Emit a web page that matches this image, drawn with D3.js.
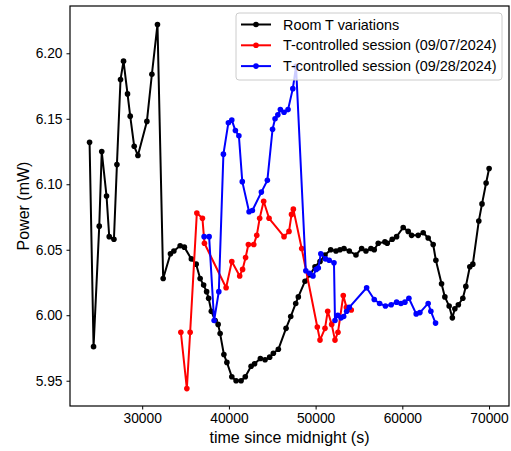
<!DOCTYPE html>
<html>
<head>
<meta charset="utf-8">
<script src="https://cdn.jsdelivr.net/npm/d3@7"></script>
<style>
  body { margin: 0; background: #fff; }
  svg { font-family: "Liberation Sans", Arial, sans-serif; }
</style>
</head>
<body>
<svg id="chart" width="511" height="451"></svg>
<script>
// Room T variations (black)
const roomT_time = [23930, 24390, 25046, 25334, 25887, 26198, 26740, 27085, 27500, 27846,
  28307, 28618, 29078, 29505, 30541, 31117, 31762, 32419, 33260, 33652,
  34378, 34861, 35668, 36221, 36682, 37085, 37430, 37661, 37972, 38410,
  38755, 38986, 39423, 39769, 40333, 40829, 41405, 41889, 42557, 42960,
  43628, 44170, 44700, 45126, 45702, 46589, 47130, 47706, 48006, 48778,
  49354, 49930, 50506, 51082, 51738, 52349, 52810, 53270, 53881, 54653,
  55309, 55805, 56381, 56761, 57222, 57994, 58259, 58835, 59341, 60102,
  60678, 61069, 61830, 62406, 62982, 63558, 63869, 64525, 64906, 65401,
  65770, 66058, 66461, 66979, 67325, 67786, 68131, 68822, 69191, 69663, 70009];
const roomT_power = [6.132, 5.976, 6.068, 6.125, 6.091, 6.060, 6.058, 6.115, 6.180, 6.194,
  6.169, 6.152, 6.129, 6.122, 6.148, 6.184, 6.222, 6.028, 6.047, 6.049,
  6.053, 6.052, 6.043, 6.039, 6.028, 6.023, 6.018, 6.013, 6.003, 5.996,
  5.993, 5.986, 5.970, 5.964, 5.953, 5.950, 5.950, 5.953, 5.961, 5.963,
  5.967, 5.966, 5.968, 5.971, 5.974, 5.990, 5.999, 6.009, 6.014, 6.026,
  6.031, 6.037, 6.041, 6.046, 6.050, 6.049, 6.050, 6.051, 6.049, 6.046,
  6.051, 6.049, 6.051, 6.050, 6.055, 6.056, 6.055, 6.058, 6.060, 6.067,
  6.064, 6.061, 6.061, 6.063, 6.059, 6.054, 6.042, 6.024, 6.014, 6.007,
  5.998, 6.005, 6.008, 6.013, 6.022, 6.037, 6.039, 6.072, 6.085, 6.101, 6.112];

// T-controlled session 09/07/2024 (red)
const sep07_time = [34458, 35149, 35530, 36301, 36947, 37177, 39677, 40333, 41244, 41578,
  41923, 42246, 42868, 43213, 43548, 44008, 44630, 46358, 46934, 47222,
  47430, 48397, 50195, 50506, 51082, 51393, 51854, 52234, 52579, 53190,
  53558, 54111];
const sep07_power = [5.987, 5.944, 5.987, 6.078, 6.074, 6.055, 6.021, 6.041, 6.030, 6.035,
  6.044, 6.054, 6.054, 6.061, 6.074, 6.087, 6.074, 6.060, 6.064, 6.077,
  6.081, 6.051, 5.991, 5.981, 5.990, 6.003, 5.993, 5.981, 5.987, 6.015,
  6.006, 6.004];

// T-controlled session 09/28/2024 (blue)
const sep28_time = [37142, 37718, 38294, 38836, 39366, 39942, 40333, 40748, 41151, 41543,
  42326, 42707, 43744, 44435, 45034, 45322, 45645, 45933, 46358, 46819,
  47372, 47741, 48870, 49296, 49699, 50068, 50310, 50598, 51140, 51566,
  52118, 52234, 52556, 52925, 53236, 53581, 53881, 55885, 56761, 57383,
  58051, 58719, 59341, 59837, 60298, 60758, 61600, 62026, 62982, 63293, 63834];
const sep28_power = [6.060, 6.060, 5.996, 6.018, 6.123, 6.147, 6.149, 6.141, 6.137, 6.102,
  6.079, 6.080, 6.094, 6.103, 6.142, 6.150, 6.153, 6.157, 6.155, 6.157,
  6.173, 6.190, 6.034, 6.032, 6.030, 6.035, 6.036, 6.047, 6.043, 6.042,
  6.040, 5.996, 6.000, 5.998, 5.999, 6.003, 6.006, 6.021, 6.012, 6.009,
  6.007, 6.008, 6.010, 6.009, 6.010, 6.013, 6.001, 6.002, 6.009, 6.003, 5.994];

const xTicks = [30000, 40000, 50000, 60000, 70000];
const yTicks = [5.95, 6.00, 6.05, 6.10, 6.15, 6.20];

const seriesNames = ['Room T variations', 'T-controlled session (09/07/2024)', 'T-controlled session (09/28/2024)'];
const seriesColors = ['black', '#ff0000', '#0000ff'];

const series = [
  { name: seriesNames[0], color: seriesColors[0], t: roomT_time, p: roomT_power },
  { name: seriesNames[1], color: seriesColors[1], t: sep07_time, p: sep07_power },
  { name: seriesNames[2], color: seriesColors[2], t: sep28_time, p: sep28_power }
];

const margin = { top: 6, right: 2, bottom: 45, left: 70 };
const width = 511 - margin.left - margin.right;
const height = 451 - margin.top - margin.bottom;

const svg = d3.select('#chart');
const g = svg.append('g').attr('transform', `translate(${margin.left},${margin.top})`);

const x = d3.scaleLinear().domain([21673, 72303]).range([0, width]);
const y = d3.scaleLinear().domain([5.9307, 6.2361]).range([height, 0]);

// lines and markers
const line = d3.line().x(d => x(d[0])).y(d => y(d[1]));
series.forEach(s => {
  const pts = s.t.map((t, i) => [t, s.p[i]]);
  g.append('path')
    .datum(pts)
    .attr('fill', 'none')
    .attr('stroke', s.color)
    .attr('stroke-width', 2)
    .attr('stroke-linejoin', 'round')
    .attr('d', line);
  g.selectAll(null)
    .data(pts)
    .enter()
    .append('circle')
    .attr('cx', d => x(d[0]))
    .attr('cy', d => y(d[1]))
    .attr('r', 2.8)
    .attr('fill', s.color);
});

// axes
const xAxis = g.append('g')
  .attr('transform', `translate(0,${height})`)
  .call(d3.axisBottom(x).tickValues(xTicks).tickFormat(d3.format('d')).tickSize(3.5).tickPadding(4));
const yAxis = g.append('g')
  .call(d3.axisLeft(y).tickValues(yTicks).tickFormat(d3.format('.2f')).tickSize(3.5).tickPadding(4));
[xAxis, yAxis].forEach(a => {
  a.select('.domain').remove();
  a.selectAll('text').attr('font-size', 13.8).attr('fill', '#000').attr('font-family', '"Liberation Sans", Arial, sans-serif');
  a.selectAll('line').attr('stroke', '#000').attr('stroke-width', 1);
});

// frame
g.append('rect')
  .attr('width', width)
  .attr('height', height)
  .attr('fill', 'none')
  .attr('stroke', '#000')
  .attr('stroke-width', 1.2);

// axis labels
svg.append('text')
  .attr('x', margin.left + width / 2)
  .attr('y', 443)
  .attr('text-anchor', 'middle')
  .attr('font-size', 16)
  .text('time since midnight (s)');
svg.append('text')
  .attr('transform', `translate(29,${margin.top + height / 2}) rotate(-90)`)
  .attr('text-anchor', 'middle')
  .attr('font-size', 16)
  .text('Power (mW)');

// legend
const legend = svg.append('g').attr('transform', 'translate(236,13)');
legend.append('rect')
  .attr('width', 266)
  .attr('height', 67)
  .attr('rx', 3)
  .attr('fill', 'rgba(255,255,255,0.8)')
  .attr('stroke', '#cccccc')
  .attr('stroke-width', 1);
series.forEach((s, i) => {
  const ly = 11.5 + i * 20.8;
  legend.append('line')
    .attr('x1', 5).attr('x2', 35)
    .attr('y1', ly).attr('y2', ly)
    .attr('stroke', s.color).attr('stroke-width', 2);
  legend.append('circle')
    .attr('cx', 20).attr('cy', ly).attr('r', 2.8).attr('fill', s.color);
  legend.append('text')
    .attr('x', 47).attr('y', ly)
    .attr('dy', '0.35em')
    .attr('font-size', 14.4)
    .text(s.name);
});
</script>
</body>
</html>
